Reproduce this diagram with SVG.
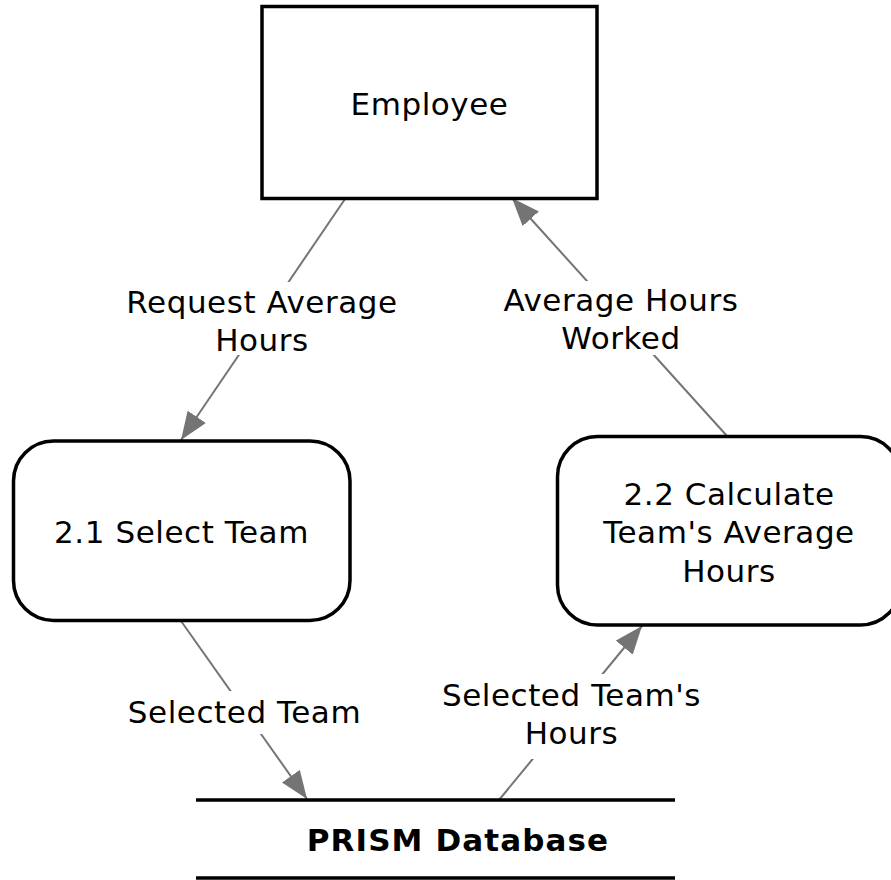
<svg xmlns="http://www.w3.org/2000/svg" width="891" height="880" viewBox="0 0 891 880">
  <style>
    .entity { fill: #ffffff; stroke: #000000; stroke-width: 3.5; }
    .process { fill: #ffffff; stroke: #000000; stroke-width: 3.5; }
    .store { stroke: #000000; stroke-width: 3.5; }
    .flow { stroke: #747474; stroke-width: 2; fill: none; marker-end: url(#arrow); }
    .label-bg { fill: #ffffff; }
    text { font-family: "DejaVu Sans", Verdana, sans-serif; font-size: 31px; letter-spacing: 0.55px; fill: #000000; text-anchor: middle; }
    .bold { font-weight: bold; letter-spacing: 1.1px; }
  </style>
  <defs>
    <marker id="arrow" markerUnits="userSpaceOnUse" markerWidth="28" markerHeight="22" refX="28" refY="11" orient="auto">
      <path d="M0,0 L28,11 L0,22 z" fill="#747474"/>
    </marker>
  </defs>

  <!-- data flows -->
  <g id="connectors">
    <line class="flow" x1="345" y1="199" x2="181" y2="440"/>
    <line class="flow" x1="727" y1="436" x2="512" y2="198"/>
    <line class="flow" x1="181" y1="621" x2="307" y2="799"/>
    <line class="flow" x1="499" y1="800" x2="642" y2="626"/>

    <g id="flow-labels">
      <rect class="label-bg" x="120" y="282" width="285" height="73"/>
      <text x="262" y="313">Request Average</text>
      <text x="262" y="351">Hours</text>

      <rect class="label-bg" x="495" y="281" width="253" height="74"/>
      <text x="621" y="311">Average Hours</text>
      <text x="621" y="349">Worked</text>

      <rect class="label-bg" x="118" y="691" width="254" height="43"/>
      <text x="244.5" y="723">Selected Team</text>

      <rect class="label-bg" x="433" y="674" width="277" height="85"/>
      <text x="571.5" y="706">Selected Team's</text>
      <text x="571.5" y="744">Hours</text>
    </g>
  </g>

  <!-- external entity -->
  <g id="employee">
    <rect class="entity" x="262" y="6.5" width="335" height="192"/>
    <text x="429.5" y="115">Employee</text>
  </g>

  <!-- processes -->
  <g id="select-team">
    <rect class="process" x="13.5" y="441" width="336.5" height="179.5" rx="40" ry="40"/>
    <text x="181.5" y="543">2.1 Select Team</text>
  </g>

  <g id="calculate-average">
    <rect class="process" x="557.5" y="436.5" width="343" height="188.5" rx="40" ry="40"/>
    <text x="729" y="505">2.2 Calculate</text>
    <text x="729" y="543">Team's Average</text>
    <text x="729" y="582">Hours</text>
  </g>

  <!-- data store -->
  <g id="prism-database">
    <line class="store" x1="196" y1="800" x2="675" y2="800"/>
    <line class="store" x1="196" y1="878" x2="675" y2="878"/>
    <text class="bold" x="458" y="851">PRISM Database</text>
  </g>
</svg>
